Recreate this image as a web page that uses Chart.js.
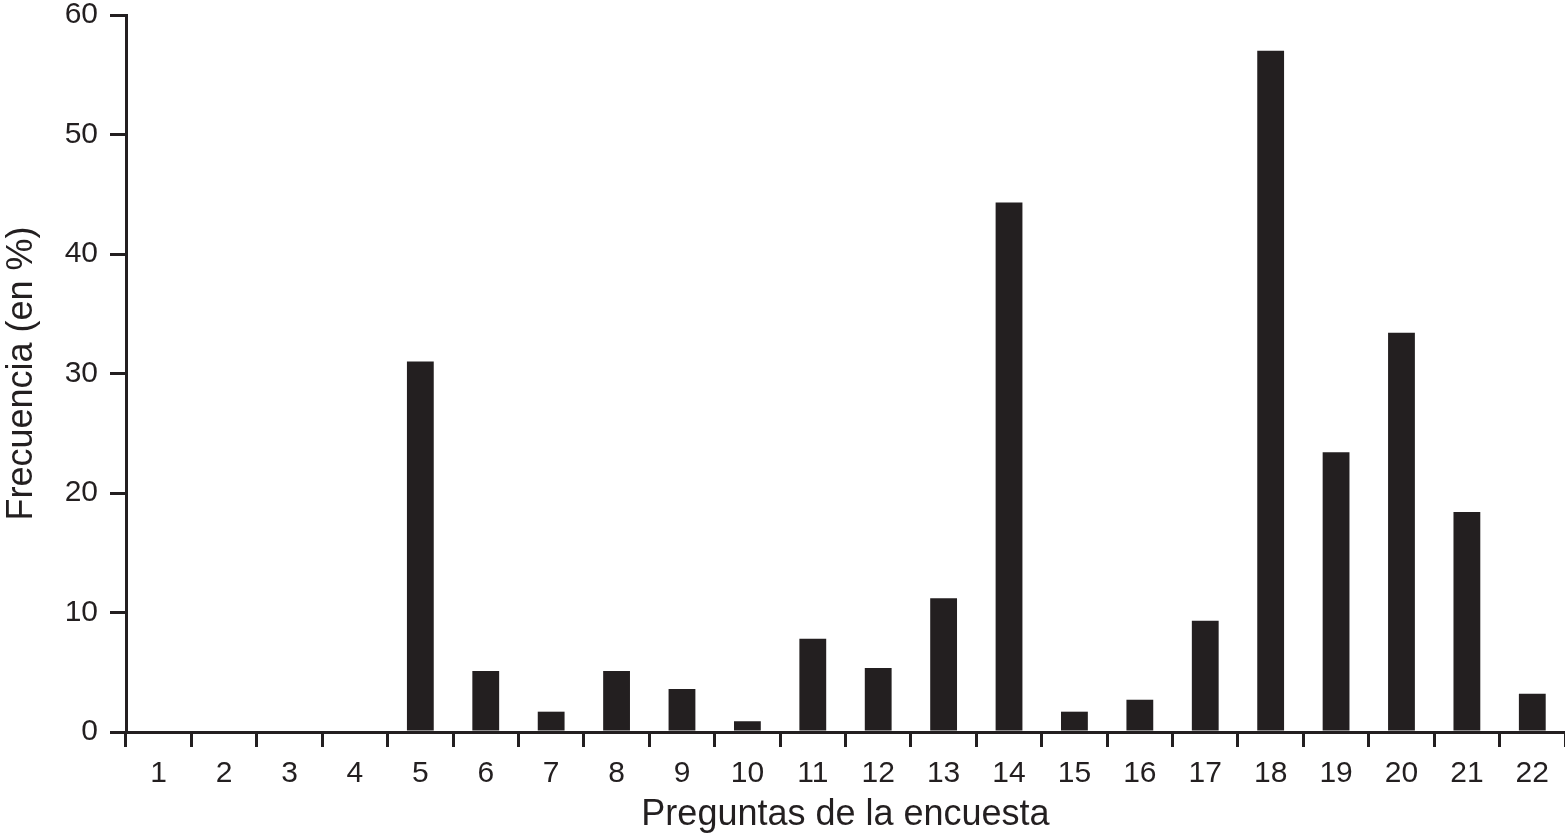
<!DOCTYPE html>
<html>
<head>
<meta charset="utf-8">
<script src="https://cdn.jsdelivr.net/npm/chart.js@4/dist/chart.umd.min.js"></script>
<style>
  html, body { margin: 0; padding: 0; background: #fff; }
  #wrap { width: 1565px; height: 833px; }
</style>
</head>
<body>
<div id="wrap"><canvas id="freq-bar"></canvas></div>
<script>
var preguntas = ['1', '2', '3', '4', '5', '6', '7', '8', '9', '10', '11',
  '12', '13', '14', '15', '16', '17', '18', '19', '20', '21', '22'];
var frecuencia = [0, 0, 0, 0, 31.0, 5.1, 1.7, 5.1, 3.6, 0.9, 7.8,
  5.35, 11.2, 44.3, 1.7, 2.7, 9.3, 57.0, 23.4, 33.4, 18.4, 3.2];
var yTicks = [0, 10, 20, 30, 40, 50, 60];

var ink = '#231f20';
var fontFam = "'Liberation Sans', Arial, Helvetica, sans-serif";

window.addEventListener('load', setup);

function setup() {
  const ctx = document.getElementById('freq-bar').getContext('2d');
  const myChart = new Chart(ctx, {
    type: 'bar',
    data: {
      labels: preguntas,
      datasets: [
        {
          label: 'Frecuencia',
          data: frecuencia,
          backgroundColor: ink,
          borderWidth: 0,
          categoryPercentage: 1.0,
          barPercentage: 0.41
        }
      ]
    },
    options: {
      responsive: true,
      maintainAspectRatio: false,
      animation: false,
      layout: { padding: 0 },
      plugins: {
        legend: { display: false },
        tooltip: { enabled: false }
      },
      scales: {
        x: {
          // fixed height so the axis line sits where the original has it
          afterFit: function (axis) { axis.height = 101; },
          grid: {
            offset: true,
            drawOnChartArea: false,
            drawTicks: true,
            tickLength: 15,
            color: ink,
            lineWidth: 3
          },
          border: { color: ink, width: 3 },
          ticks: {
            color: ink,
            padding: 12,
            maxRotation: 0,
            font: { family: fontFam, size: 30, lineHeight: 1.0 }
          },
          title: {
            display: true,
            text: 'Preguntas de la encuesta',
            color: ink,
            padding: { top: 0, bottom: 0 },
            font: { family: fontFam, size: 36, lineHeight: 1.0 }
          }
        },
        y: {
          min: 0,
          max: 60,
          afterBuildTicks: function (axis) {
            axis.ticks = yTicks.map(function (v) { return { value: v }; });
          },
          afterFit: function (axis) {
            axis.width = 126;
            axis.paddingTop = 15;
          },
          grid: {
            drawOnChartArea: false,
            drawTicks: true,
            tickLength: 16,
            color: ink,
            lineWidth: 3
          },
          border: { color: ink, width: 3 },
          ticks: {
            color: ink,
            padding: 12,
            font: { family: fontFam, size: 30, lineHeight: 1.0 }
          },
          title: {
            display: true,
            text: 'Frecuencia (en %)',
            color: ink,
            padding: { top: 0, bottom: 0 },
            font: { family: fontFam, size: 36 }
          }
        }
      }
    }
  });
}
</script>
</body>
</html>
